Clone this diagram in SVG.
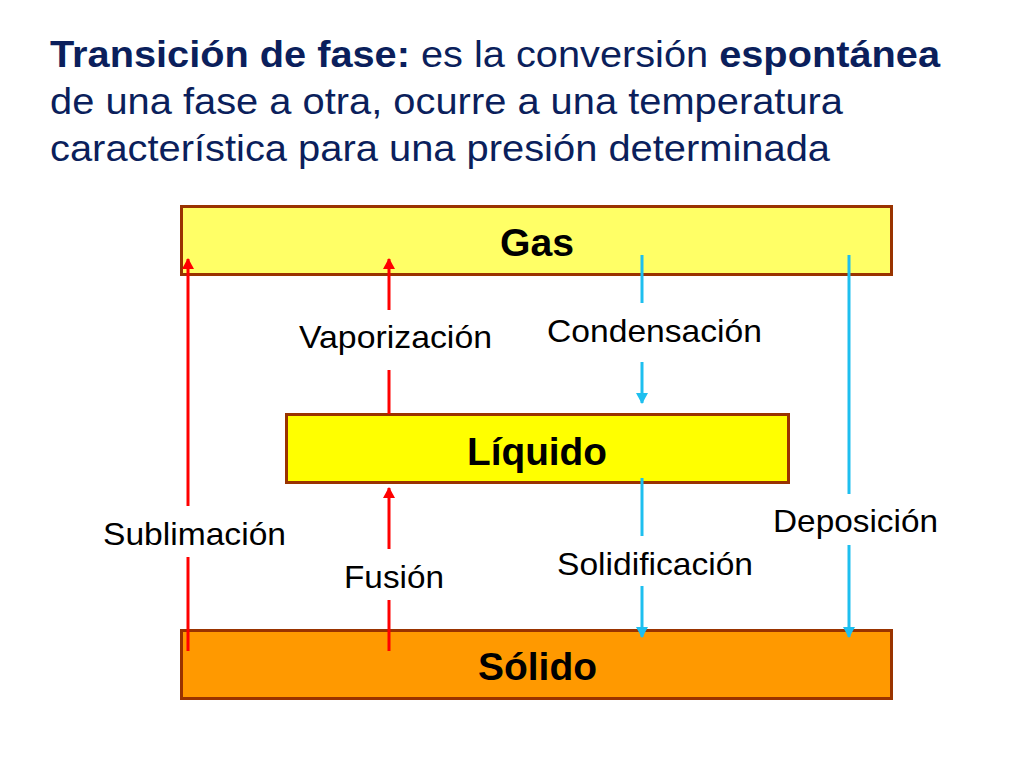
<svg xmlns="http://www.w3.org/2000/svg" width="1024" height="768" viewBox="0 0 1024 768">
<defs>
<marker id="ar" markerWidth="11" markerHeight="12" refX="10" refY="6" orient="auto" markerUnits="userSpaceOnUse" viewBox="0 0 11 12"><path d="M0,0 L11,6 L0,12 Z" fill="#FF0000"/></marker>
<marker id="ab" markerWidth="11" markerHeight="12" refX="10" refY="6" orient="auto" markerUnits="userSpaceOnUse" viewBox="0 0 11 12"><path d="M0,0 L11,6 L0,12 Z" fill="#1EBFEF"/></marker>
<style>
.t{font-family:"Liberation Sans",Arial,sans-serif;fill:#0B1F5C;font-size:36px}
.b{font-weight:bold}
.box{stroke:#993300;stroke-width:3}
.bl{font-family:"Liberation Sans",Arial,sans-serif;font-weight:bold;font-size:38px;fill:#000;text-anchor:middle}
.lb{font-family:"Liberation Sans",Arial,sans-serif;font-size:32px;fill:#000;text-anchor:middle}
.r{stroke:#FF0000;stroke-width:3;fill:none}
.c{stroke:#1EBFEF;stroke-width:3;fill:none}
</style>
</defs>
<rect width="1024" height="768" fill="#fff"/>
<g id="title">
<text class="t" x="50" y="67" textLength="890" lengthAdjust="spacingAndGlyphs"><tspan class="b">Transición de fase:</tspan> es la conversión <tspan class="b">espontánea</tspan></text>
<text class="t" x="50" y="114" textLength="793" lengthAdjust="spacingAndGlyphs">de una fase a otra, ocurre a una temperatura</text>
<text class="t" x="50" y="161" textLength="780" lengthAdjust="spacingAndGlyphs">característica para una presión determinada</text>
</g>
<g id="gas"><rect class="box" x="181.5" y="206.5" width="710" height="68" fill="#FFFF66"/><text class="bl" x="537" y="256" textLength="74" lengthAdjust="spacingAndGlyphs">Gas</text></g>
<g id="liquido"><rect class="box" x="286.5" y="414.5" width="502" height="68" fill="#FFFF00"/><text class="bl" x="537" y="465" textLength="140" lengthAdjust="spacingAndGlyphs">Líquido</text></g>
<g id="solido"><rect class="box" x="181.5" y="630.5" width="710" height="68" fill="#FF9900"/><text class="bl" x="537.5" y="680" textLength="119" lengthAdjust="spacingAndGlyphs">Sólido</text></g>
<g id="connectors">
<line class="r" x1="188" y1="651" x2="188" y2="557"/><line class="r" x1="188" y1="506" x2="188" y2="259" marker-end="url(#ar)"/>
<line class="r" x1="389" y1="414" x2="389" y2="370"/><line class="r" x1="389" y1="310" x2="389" y2="259" marker-end="url(#ar)"/>
<line class="r" x1="389" y1="651" x2="389" y2="600"/><line class="r" x1="389" y1="549" x2="389" y2="488" marker-end="url(#ar)"/>
<line class="c" x1="642" y1="255" x2="642" y2="303"/><line class="c" x1="642" y1="362" x2="642" y2="403" marker-end="url(#ab)"/>
<line class="c" x1="642" y1="478" x2="642" y2="536"/><line class="c" x1="642" y1="586" x2="642" y2="637" marker-end="url(#ab)"/>
<line class="c" x1="849" y1="255" x2="849" y2="494"/><line class="c" x1="849" y1="545" x2="849" y2="637" marker-end="url(#ab)"/>
</g>
<g id="labels">
<text class="lb" x="395.5" y="348" textLength="193" lengthAdjust="spacingAndGlyphs">Vaporización</text>
<text class="lb" x="654.5" y="342" textLength="215" lengthAdjust="spacingAndGlyphs">Condensación</text>
<text class="lb" x="194.5" y="545" textLength="183" lengthAdjust="spacingAndGlyphs">Sublimación</text>
<text class="lb" x="394" y="588" textLength="100" lengthAdjust="spacingAndGlyphs">Fusión</text>
<text class="lb" x="655" y="575" textLength="196" lengthAdjust="spacingAndGlyphs">Solidificación</text>
<text class="lb" x="855.5" y="532" textLength="165" lengthAdjust="spacingAndGlyphs">Deposición</text>
</g>
</svg>
